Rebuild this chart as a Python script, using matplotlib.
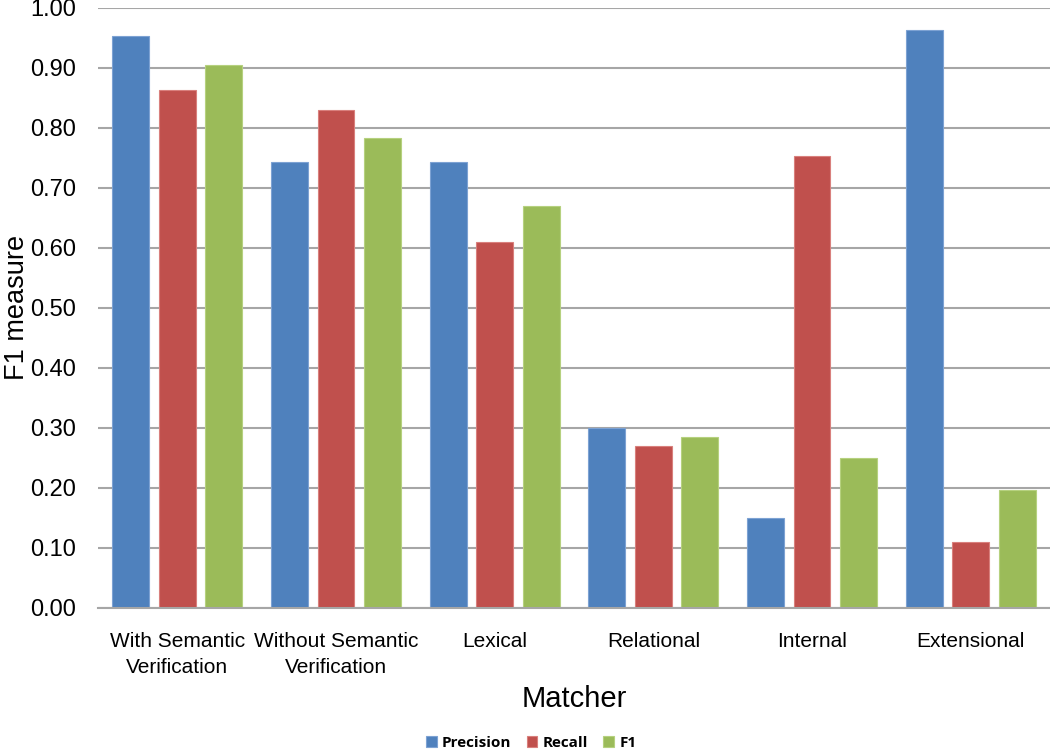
import numpy as np
import matplotlib.pyplot as plt

plt.rcParams['font.family'] = ['Liberation Sans', 'DejaVu Sans']

matchers = ['With Semantic\nVerification', 'Without Semantic\nVerification',
            'Lexical', 'Relational', 'Internal', 'Extensional']
precision = [0.952, 0.742, 0.742, 0.300, 0.150, 0.962]
recall = [0.862, 0.830, 0.610, 0.270, 0.752, 0.110]
f1 = [0.905, 0.783, 0.670, 0.285, 0.250, 0.197]
series_names = ['Precision', 'Recall', 'F1']

colors = ['#4F81BD', '#C0504D', '#9BBB59']
edges = ['#7DA2D3', '#D9807D', '#B6D17F']

fig = plt.figure(figsize=(10.5, 7.49), dpi=100)
ax = fig.add_axes([98 / 1050, 1 - 608 / 749, 1 - 98 / 1050, (608 - 7.5) / 749])

x = np.arange(len(matchers))
step = 0.293
width = 0.233
for i, (vals, name) in enumerate(zip([precision, recall, f1], series_names)):
    ax.bar(x + (i - 1) * step, vals, width, color=colors[i], edgecolor=edges[i],
           linewidth=0.8, label=name, zorder=3)

ax.set_xlim(-0.5, len(matchers) - 0.5)
ax.set_ylim(0, 1.0)
ax.set_yticks(np.arange(0, 1.01, 0.1))
ax.set_yticklabels([f'{v:.2f}' for v in np.arange(0, 1.01, 0.1)], fontsize=17)
ax.set_xticks(x)
ax.set_xticklabels(matchers, fontsize=15, linespacing=1.5)
ax.tick_params(axis='both', length=0)
ax.tick_params(axis='x', pad=17)
ax.tick_params(axis='y', pad=16)

ax.grid(axis='y', color='#A6A6A6', linewidth=1.5, zorder=0)
for s in ['left', 'right', 'top']:
    ax.spines[s].set_visible(False)
ax.spines['bottom'].set_color('#A6A6A6')
ax.spines['bottom'].set_linewidth(1.5)
ax.spines['bottom'].set_zorder(4)

ax.set_ylabel('F1 measure', fontsize=19.5, va='center')
ax.yaxis.set_label_coords((17 - 98) / 952, 0.5)
ax.set_xlabel('Matcher', fontsize=21, va='center')
ax.xaxis.set_label_coords(0.5, (608 - 699) / 600)

leg = ax.legend(loc='center', bbox_to_anchor=(0.455, -0.224), ncol=3, frameon=False,
                prop={'size': 11, 'weight': 'bold', 'family': ['Open Sans', 'DejaVu Sans']},
                handlelength=0.7, handleheight=0.7, handletextpad=0.35, columnspacing=1.0)

fig.savefig('out.png', dpi=100)
